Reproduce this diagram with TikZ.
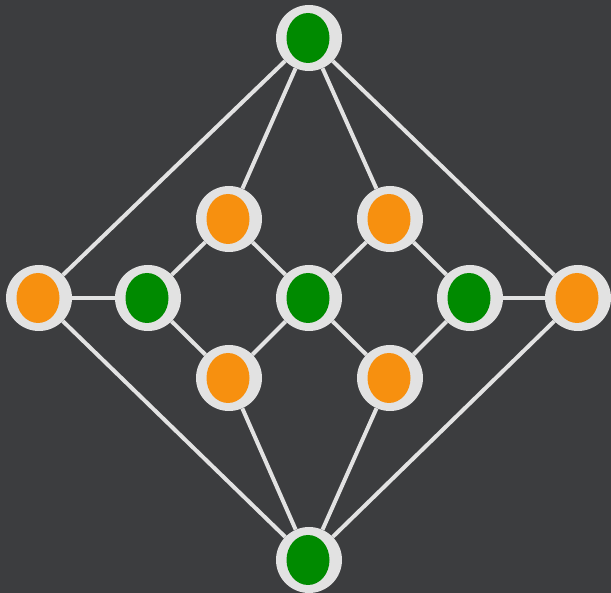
\documentclass[tikz,border=0pt]{standalone}
\definecolor{board}{HTML}{3C3D3F}
\definecolor{chalk}{HTML}{E2E2E2}
\definecolor{leaf}{HTML}{008A00}
\definecolor{amber}{HTML}{F7900F}
\tikzset{
  orb/.style={circle, fill=chalk, minimum size=66pt, inner sep=0pt,
    path picture={\fill[#1] ([xshift=-1pt]path picture bounding box.center) ellipse (21.5pt and 25pt);}},
  link/.style={draw=chalk, line width=4pt}
}
\begin{document}
\begin{tikzpicture}[x=1pt,y=-1pt]
\fill[board] (0,0) rectangle (611,593);
\useasboundingbox (0,0) rectangle (611,593);
\node[orb=leaf] (T) at (309,38) {};
\node[orb=amber] (UL) at (229,219) {};
\node[orb=amber] (UR) at (390,219) {};
\node[orb=amber] (L) at (39,298) {};
\node[orb=leaf] (LM) at (148,298) {};
\node[orb=leaf] (C) at (309,298) {};
\node[orb=leaf] (RM) at (470,298) {};
\node[orb=amber] (R) at (578,298) {};
\node[orb=amber] (LL) at (229,378) {};
\node[orb=amber] (LR) at (390,378) {};
\node[orb=leaf] (B) at (309,560) {};
\foreach \a/\b in {T/L,T/R,T/UL,T/UR,L/LM,R/RM,L/B,R/B,B/LL,B/LR,UL/LM,UL/C,UR/C,UR/RM,LL/LM,LL/C,LR/C,LR/RM}
  \draw[link] (\a) -- (\b);
\end{tikzpicture}
\end{document}
